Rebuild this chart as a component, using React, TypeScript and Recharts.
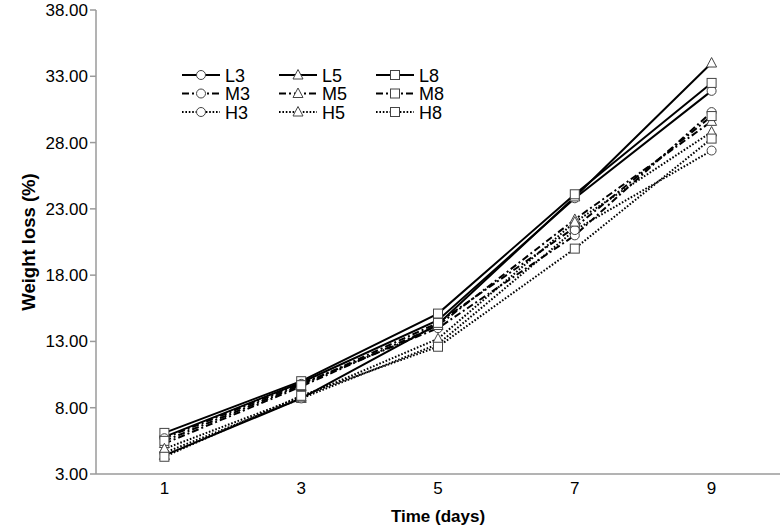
import { LineChart, Line, XAxis, YAxis } from "recharts"

const DAYS = [1, 3, 5, 7, 9]
const Y_TICKS = [3, 8, 13, 18, 23, 28, 33, 38]

const L3 = [5.8, 9.9, 14.6, 23.8, 31.9]
const L5 = [4.4, 8.7, 14.3, 23.9, 34.0]
const L8 = [6.1, 10.0, 15.1, 24.1, 32.5]
const M3 = [5.7, 9.8, 14.0, 21.0, 30.3]
const M5 = [5.3, 9.6, 14.2, 22.2, 29.6]
const M8 = [5.5, 9.7, 14.4, 21.6, 30.0]
const H3 = [4.6, 8.7, 12.8, 21.4, 27.4]
const H5 = [4.9, 8.8, 13.2, 22.0, 28.8]
const H8 = [4.3, 8.9, 12.6, 20.0, 28.3]

const FONT = "'Liberation Sans', Arial, Helvetica, sans-serif"
const AXIS_GRAY = "#9a9a9a"

type Shape = "circle" | "triangle" | "square"

const SERIES: { key: string; values: number[]; shape: Shape; dash?: string }[] = [
  { key: "L3", values: L3, shape: "circle" },
  { key: "L5", values: L5, shape: "triangle" },
  { key: "L8", values: L8, shape: "square" },
  { key: "M3", values: M3, shape: "circle", dash: "7 3 2 3" },
  { key: "M5", values: M5, shape: "triangle", dash: "7 3 2 3" },
  { key: "M8", values: M8, shape: "square", dash: "7 3 2 3" },
  { key: "H3", values: H3, shape: "circle", dash: "1.6 1.8" },
  { key: "H5", values: H5, shape: "triangle", dash: "1.6 1.8" },
  { key: "H8", values: H8, shape: "square", dash: "1.6 1.8" },
]

const data = DAYS.map((day, i) => {
  const row: Record<string, number> = { day }
  SERIES.forEach((s) => (row[s.key] = s.values[i]))
  return row
})

function Marker({ shape, cx, cy }: { shape: Shape; cx: number; cy: number }) {
  const p = { fill: "#fff", stroke: "#444", strokeWidth: 1 }
  if (shape === "circle") return <circle cx={cx} cy={cy} r={4.5} {...p} />
  if (shape === "square") return <rect x={cx - 4.5} y={cy - 4.5} width={9} height={9} {...p} />
  return <polygon points={`${cx},${cy - 5.5} ${cx + 5},${cy + 4} ${cx - 5},${cy + 4}`} {...p} />
}

function makeDot(shape: Shape) {
  return (props: any) => {
    const { cx, cy, index } = props
    if (cx == null || cy == null) return <g key={index} />
    return (
      <g key={index}>
        <Marker shape={shape} cx={cx} cy={cy} />
      </g>
    )
  }
}

// legend drawn on top of the plot, 3 x 3 grid like the original
function LegendBox() {
  return (
    <svg width={300} height={60} style={{ overflow: "visible" }}>
      {SERIES.map((s, i) => {
        const x = (i % 3) * 97
        const y = Math.floor(i / 3) * 18.5 + 8
        return (
          <g key={s.key}>
            <line x1={x} y1={y} x2={x + 38} y2={y} stroke="#000" strokeWidth={2} strokeDasharray={s.dash} />
            <Marker shape={s.shape} cx={x + 19} cy={y} />
            <text x={x + 43} y={y + 6.5} fontSize={18} fontFamily={FONT} fill="#000">
              {s.key}
            </text>
          </g>
        )
      })}
    </svg>
  )
}

export default function App() {
  return (
    <div style={{ position: "absolute", left: 0, top: 0, width: 780, height: 525, background: "#fff" }}>
      <LineChart width={780} height={525} data={data} margin={{ top: 10, right: 0, left: 0, bottom: 0 }}>
        <XAxis
          type="number"
          dataKey="day"
          domain={[0, 10]}
          ticks={DAYS}
          tickLine={false}
          tickSize={6}
          axisLine={{ stroke: AXIS_GRAY, strokeWidth: 1.5 }}
          height={51}
          tick={{ fontSize: 17, fill: "#000", fontFamily: FONT }}
          label={{
            value: "Time (days)",
            position: "insideBottom",
            offset: 3,
            style: { fontSize: 17, fontWeight: "bold", fill: "#000", fontFamily: FONT },
          }}
        />
        <YAxis
          type="number"
          domain={[3, 38]}
          ticks={Y_TICKS}
          width={96}
          tickSize={6}
          tickMargin={2}
          tickFormatter={(v: number) => v.toFixed(2)}
          axisLine={{ stroke: AXIS_GRAY, strokeWidth: 1.5 }}
          tickLine={{ stroke: AXIS_GRAY, strokeWidth: 1.5 }}
          tick={{ fontSize: 17, fill: "#000", fontFamily: FONT }}
          label={{
            content: ({ viewBox }: any) => {
              const cx = 35
              const cy = viewBox.y + viewBox.height / 2
              return (
                <text
                  x={cx}
                  y={cy}
                  transform={`rotate(-90 ${cx} ${cy})`}
                  textAnchor="middle"
                  fontSize={18.5}
                  fontWeight="bold"
                  fontFamily={FONT}
                  fill="#000"
                >
                  Weight loss (%)
                </text>
              )
            },
          }}
        />
        {SERIES.map((s) => (
          <Line
            key={s.key}
            dataKey={s.key}
            type="linear"
            stroke="#000"
            strokeWidth={2}
            strokeDasharray={s.dash}
            dot={makeDot(s.shape)}
            activeDot={false}
            isAnimationActive={false}
          />
        ))}
      </LineChart>
      <div style={{ position: "absolute", left: 182, top: 67 }}>
        <LegendBox />
      </div>
    </div>
  )
}
